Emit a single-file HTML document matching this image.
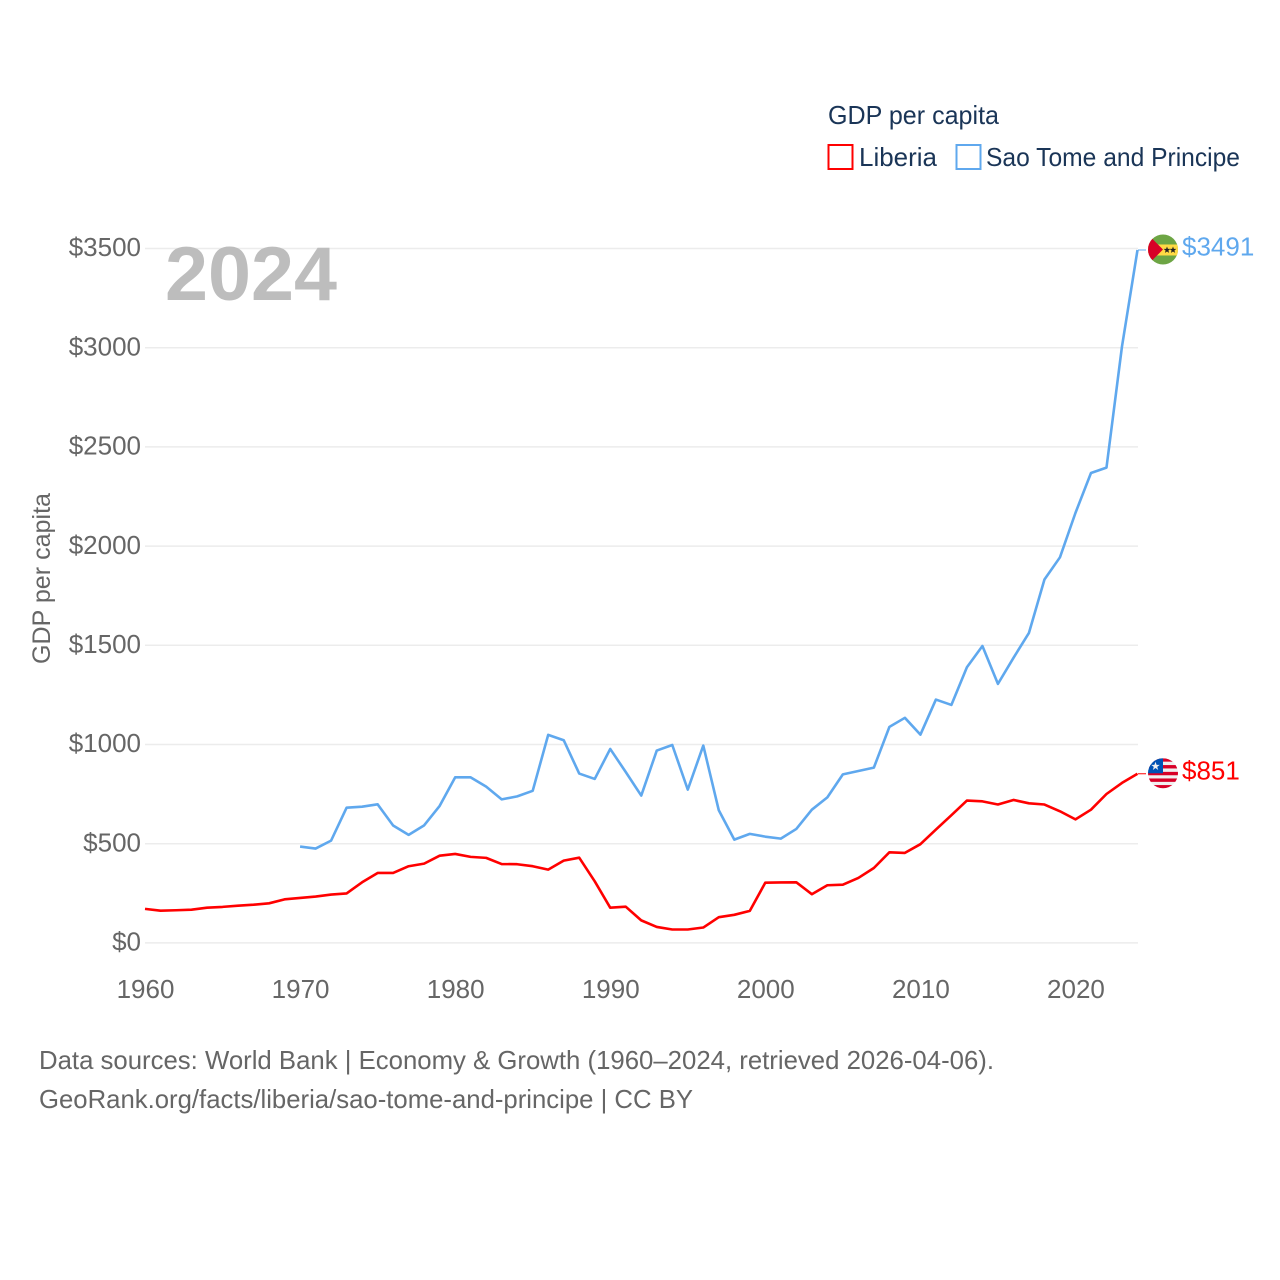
<!DOCTYPE html>
<html lang="en">
<head>
<meta charset="utf-8">
<title>GDP per capita: Liberia vs Sao Tome and Principe</title>
<style>
html,body{margin:0;padding:0;background:#fff;}
svg{display:block;font-family:"Liberation Sans",sans-serif;}
</style>
</head>
<body>
<svg id="chart" xmlns="http://www.w3.org/2000/svg" width="1280" height="1280" viewBox="0 0 1280 1280">
  <defs>
    <clipPath id="flag-clip"><circle cx="0" cy="0" r="15"></circle></clipPath>
  </defs>
  <rect x="0" y="0" width="1280" height="1280" fill="#fff"></rect>
  <g id="grid"></g>
  <g id="y-ticks" font-size="26" fill="#666" text-anchor="end"></g>
  <g id="x-ticks" font-size="26" fill="#666" text-anchor="middle"></g>
  <text x="165" y="300" font-size="76" font-weight="bold" fill="#bdbdbd" textLength="172" lengthAdjust="spacingAndGlyphs">2024</text>
  <text transform="translate(50,664) rotate(-90)" font-size="25" fill="#666" textLength="171" lengthAdjust="spacingAndGlyphs">GDP per capita</text>
  <g id="series"></g>

  <g id="flag-stp">
    <g clip-path="url(#flag-clip)">
      <rect x="-15" y="-15" width="30" height="30" fill="#6da544"></rect>
      <rect x="-15" y="-5" width="30" height="11" fill="#ffda44"></rect>
      <polygon points="-15,-15 0,0 -15,15" fill="#d80027"></polygon>
      <polygon points="4,-3 4.9,-0.6 7.4,-0.6 5.4,1 6.1,3.4 4,2 1.9,3.4 2.6,1 0.6,-0.6 3.1,-0.6" fill="#222"></polygon>
      <polygon points="10,-3 10.9,-0.6 13.4,-0.6 11.4,1 12.1,3.4 10,2 7.9,3.4 8.6,1 6.6,-0.6 9.1,-0.6" fill="#222"></polygon>
    </g>
  </g>
  <g id="flag-lbr">
    <g clip-path="url(#flag-clip)">
      <rect x="-15" y="-15" width="30" height="30" fill="#f0f0f0"></rect>
      <rect x="-15" y="-15" width="30" height="3.4" fill="#d80027"></rect>
      <rect x="-15" y="-8.2" width="30" height="3.4" fill="#d80027"></rect>
      <rect x="-15" y="-1.4" width="30" height="3.4" fill="#d80027"></rect>
      <rect x="-15" y="5.2" width="30" height="3.4" fill="#d80027"></rect>
      <rect x="-15" y="11.8" width="30" height="3.4" fill="#d80027"></rect>
      <rect x="-15" y="-15" width="15" height="15" fill="#0052b4"></rect>
      <polygon points="-7.5,-11.5 -6.4,-8.4 -3.2,-8.4 -5.8,-6.4 -4.8,-3.3 -7.5,-5.2 -10.2,-3.3 -9.2,-6.4 -11.8,-8.4 -8.6,-8.4" fill="#f0f0f0"></polygon>
    </g>
  </g>
  <g id="end-labels" font-size="26"></g>

  <g>
    <text x="828" y="124" font-size="26" fill="#1a3557" textLength="171" lengthAdjust="spacingAndGlyphs">GDP per capita</text>
    <g>
      <rect x="828.5" y="145" width="24" height="24" fill="none" stroke="#ff0000" stroke-width="2"></rect>
      <text x="859" y="166" font-size="26" fill="#1a3557" textLength="78" lengthAdjust="spacingAndGlyphs">Liberia</text>
    </g>
    <g>
      <rect x="956.5" y="145" width="24" height="24" fill="none" stroke="#5fa8ee" stroke-width="2"></rect>
      <text x="986" y="166" font-size="26" fill="#1a3557" textLength="254" lengthAdjust="spacingAndGlyphs">Sao Tome and Principe</text>
    </g>
  </g>

  <text x="39" y="1069" font-size="26" fill="#666" textLength="955" lengthAdjust="spacingAndGlyphs">Data sources: World Bank | Economy &amp; Growth (1960–2024, retrieved 2026-04-06).</text>
  <text x="39" y="1108" font-size="26" fill="#666" textLength="654" lengthAdjust="spacingAndGlyphs">GeoRank.org/facts/liberia/sao-tome-and-principe | CC BY</text>
</svg>
<script>
const firstYear = 1960;
const lastYear = 2024;
const yTickValues = [0, 500, 1000, 1500, 2000, 2500, 3000, 3500];
const xTickValues = [1960, 1970, 1980, 1990, 2000, 2010, 2020];
const liberiaValues = [170,161,163,166,176,180,186,191,198,218,225,232,242,248,304,351,351,385,398,438,447,432,427,396,395,385,368,413,428,309,176,181,112,79,66,66,76,128,140,160,302,303,304,244,289,292,326,376,455,452,496,570,642,716,712,696,719,702,696,662,621,670,749,805,851];
const saoTomeValues = [null,null,null,null,null,null,null,null,null,null,484,474,514,680,685,697,590,543,591,689,833,833,786,722,737,765,1047,1020,852,825,976,860,741,968,996,771,993,667,519,548,534,524,573,670,732,848,865,882,1087,1133,1048,1225,1198,1388,1495,1304,1435,1561,1830,1942,2166,2367,2394,3005,3491];

const svgNS = 'http://www.w3.org/2000/svg';
const xScale = function (year) {
  return 145 + (year - firstYear) * (1137.5 - 145) / (lastYear - firstYear);
};
const yScale = function (value) {
  return 942.6 - value * (942.6 - 248.2) / 3500;
};
const money = function (value) {
  return '$' + value;
};

const gridGroup = document.getElementById('grid');
const yTickGroup = document.getElementById('y-ticks');
const xTickGroup = document.getElementById('x-ticks');
const seriesGroup = document.getElementById('series');
const endLabelGroup = document.getElementById('end-labels');

yTickValues.forEach(function (value) {
  const line = document.createElementNS(svgNS, 'line');
  
  
  line.setAttribute('x1', 145);
  line.setAttribute('x2', 1138);
  line.setAttribute('y1', yScale(value) + 0.3);
  line.setAttribute('y2', yScale(value) + 0.3);
  line.setAttribute('stroke', '#ececec');
  line.setAttribute('stroke-width', 1.5);
  gridGroup.appendChild(line);

  const label = document.createElementNS(svgNS, 'text');
  
  
  label.setAttribute('x', 141);
  label.setAttribute('y', yScale(value) + 8);
  label.textContent = money(value);
  yTickGroup.appendChild(label);
});

xTickValues.forEach(function (year) {
  const label = document.createElementNS(svgNS, 'text');
  
  
  label.setAttribute('x', xScale(year) + 0.5);
  label.setAttribute('y', 998);
  label.textContent = String(year);
  xTickGroup.appendChild(label);
});

function drawSeries(values, color, seriesName, flagId) {
  let d = '';
  let started = false;
  values.forEach(function (value, index) {
    if (value === null) {
      return;
    }
    d += (started ? 'L' : 'M') + xScale(firstYear + index).toFixed(2) + ' ' + yScale(value).toFixed(2) + ' ';
    started = true;
  });
  const path = document.createElementNS(svgNS, 'path');
  
  
  path.setAttribute('d', d);
  path.setAttribute('fill', 'none');
  path.setAttribute('stroke', color);
  path.setAttribute('stroke-width', 2.6);
  path.setAttribute('stroke-linejoin', 'round');
  seriesGroup.appendChild(path);

  const lastValue = values[values.length - 1];
  const endY = yScale(lastValue);

  const connector = document.createElementNS(svgNS, 'line');
  
  
  connector.setAttribute('x1', 1138);
  connector.setAttribute('x2', 1146);
  connector.setAttribute('y1', endY);
  connector.setAttribute('y2', endY);
  connector.setAttribute('stroke', color);
  connector.setAttribute('stroke-width', 1);
  seriesGroup.appendChild(connector);

  document.getElementById(flagId).setAttribute('transform', 'translate(1163,' + (endY - 0.5) + ')');

  const label = document.createElementNS(svgNS, 'text');
  
  
  label.setAttribute('x', 1182);
  label.setAttribute('y', endY + 5.5);
  label.setAttribute('fill', color);
  label.textContent = money(lastValue);
  endLabelGroup.appendChild(label);
}

drawSeries(saoTomeValues, '#5fa8ee', 'sao-tome', 'flag-stp');
drawSeries(liberiaValues, '#ff0000', 'liberia', 'flag-lbr');
</script>
</body>
</html>
